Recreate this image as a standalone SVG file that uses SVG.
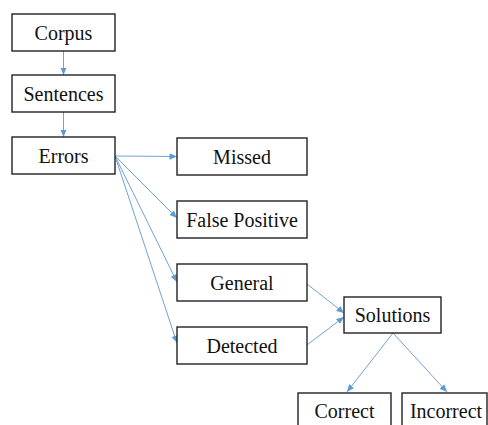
<svg xmlns="http://www.w3.org/2000/svg" width="488" height="425" viewBox="0 0 488 425">
<style>
.box{fill:#fff;stroke:#222;stroke-width:1.4}
.lbl{font-family:"Liberation Serif","Times New Roman",serif;font-size:20px;fill:#111;text-anchor:middle}
.con{stroke:#6fa3d6;stroke-width:1;fill:none;marker-end:url(#ah)}
</style>
<defs>
<marker id="ah" markerUnits="userSpaceOnUse" markerWidth="8" markerHeight="8" viewBox="0 0 8 8" refX="7.5" refY="4" orient="auto">
<path d="M0,0.8 L7.5,4 L0,7.2 Z" fill="#5b9bd5"/>
</marker>
</defs>
<rect width="488" height="425" fill="#fff"/>
<g id="connectors">
<line class="con" x1="63.5" y1="51" x2="63.5" y2="75"/>
<line class="con" x1="63.5" y1="112" x2="63.5" y2="137"/>
<line class="con" x1="115" y1="156" x2="177" y2="156.5"/>
<line class="con" x1="115" y1="156" x2="177" y2="218"/>
<line class="con" x1="115" y1="156" x2="177" y2="282"/>
<line class="con" x1="115" y1="156" x2="177" y2="343"/>
<line class="con" x1="307" y1="284" x2="344" y2="313"/>
<line class="con" x1="307" y1="345" x2="344" y2="317"/>
<line class="con" x1="393" y1="333" x2="347" y2="392"/>
<line class="con" x1="393" y1="333" x2="447" y2="392"/>
</g>
<g id="corpus"><rect class="box" x="12" y="14" width="103" height="37"/><text class="lbl" x="63.5" y="40">Corpus</text></g>
<g id="sentences"><rect class="box" x="12" y="75" width="103" height="37"/><text class="lbl" x="63.5" y="101">Sentences</text></g>
<g id="errors"><rect class="box" x="12" y="137" width="103" height="37"/><text class="lbl" x="63.5" y="163">Errors</text></g>
<g id="missed"><rect class="box" x="177" y="138" width="130" height="37"/><text class="lbl" x="242" y="164">Missed</text></g>
<g id="false-positive"><rect class="box" x="177" y="201" width="130" height="37"/><text class="lbl" x="242" y="227">False Positive</text></g>
<g id="general"><rect class="box" x="177" y="264" width="130" height="37"/><text class="lbl" x="242" y="290">General</text></g>
<g id="detected"><rect class="box" x="177" y="327" width="130" height="37"/><text class="lbl" x="242" y="353">Detected</text></g>
<g id="solutions"><rect class="box" x="344" y="297" width="97" height="36"/><text class="lbl" x="392.5" y="322">Solutions</text></g>
<g id="correct"><rect class="box" x="298" y="393" width="93" height="37"/><text class="lbl" x="344.5" y="418">Correct</text></g>
<g id="incorrect"><rect class="box" x="402" y="393" width="85" height="37"/><text class="lbl" x="446" y="418">Incorrect</text></g>
</svg>
